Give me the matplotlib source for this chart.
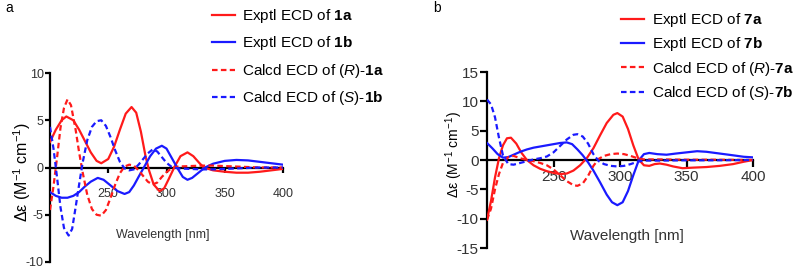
import matplotlib
matplotlib.use("Agg")
import matplotlib.pyplot as plt

plt.rcParams["font.family"] = ["Liberation Sans", "DejaVu Sans"]
plt.rcParams["mathtext.fontset"] = "custom"
plt.rcParams["mathtext.rm"] = "Liberation Sans"
plt.rcParams["mathtext.it"] = "Liberation Sans:italic"
plt.rcParams["mathtext.bf"] = "Liberation Sans:bold"

# ---- panel a: compounds 1a / 1b ----
wl_1a = [200, 205, 210, 214, 220, 225, 230, 235, 240, 244, 250, 255, 260, 265, 270,
         274, 278, 282, 285, 289, 294, 298, 302, 307, 312, 318, 323, 328, 332, 340,
         350, 360, 370, 380, 390, 400]
exp_1a = [2.7, 4.0, 5.0, 5.4, 5.0, 4.0, 2.8, 1.6, 0.7, 0.45, 0.9, 2.2, 4.0, 5.7, 6.4,
          5.8, 3.8, 1.2, -0.3, -1.8, -2.5, -2.2, -1.2, 0.1, 1.2, 1.6, 1.2, 0.5, 0.0, -0.3,
          -0.45, -0.55, -0.55, -0.45, -0.3, -0.15]

wl_1b = [200, 205, 210, 215, 220, 225, 230, 235, 241, 246, 252, 258, 264, 268, 272,
         276, 281, 286, 291, 296, 300, 305, 310, 314, 318, 322, 327, 333, 340, 350,
         360, 370, 380, 390, 400]
exp_1b = [-2.6, -3.0, -3.2, -3.2, -3.0, -2.6, -2.0, -1.5, -1.1, -1.3, -1.9, -2.5, -2.8, -2.6, -1.9,
          -1.0, 0.1, 1.2, 2.0, 2.3, 2.0, 0.9, -0.2, -1.0, -1.3, -1.1, -0.6, 0.0, 0.4, 0.7,
          0.8, 0.75, 0.6, 0.45, 0.3]

wl_calc_1a = [200, 203, 206, 209, 212, 215, 218, 222, 225, 228, 232, 236, 240, 244, 248,
              252, 256, 260, 264, 268, 272, 276, 280, 284, 288, 292, 296, 300, 304, 310,
              320, 330, 340, 350, 360, 370, 380, 400]
calc_r_1a = [-4.5, -2.0, 1.0, 4.2, 6.3, 7.2, 6.6, 4.0, 1.6, -0.5, -2.9, -4.4, -5.0, -5.1, -4.5,
             -3.2, -1.8, -0.6, 0.1, 0.3, 0.2, -0.3, -0.9, -1.5, -1.8, -1.6, -1.0, -0.5, -0.1, 0.1,
             0.15, 0.2, 0.2, 0.15, 0.1, 0.05, 0.0, 0.0]

wl_calc_1b = [200, 203, 206, 209, 212, 216, 219, 222, 225, 228, 232, 236, 240, 244, 248,
              252, 256, 260, 264, 268, 272, 276, 280, 284, 288, 292, 296, 300, 304, 310,
              320, 330, 340, 350, 360, 370, 380, 400]
calc_s_1b = [4.3, 2.0, -1.0, -4.2, -6.4, -7.2, -6.5, -4.2, -1.8, 0.5, 2.9, 4.3, 4.9, 5.0, 4.4,
             3.2, 1.8, 0.6, -0.1, -0.3, -0.2, 0.3, 0.9, 1.5, 1.9, 1.7, 1.1, 0.5, 0.1, -0.1,
             -0.15, -0.2, -0.2, -0.15, -0.1, -0.05, 0.0, 0.0]

# ---- panel b: compounds 7a / 7b ----
wl_7a = [200, 203, 206, 209, 212, 215, 218, 222, 226, 230, 235, 240, 245, 250, 255,
         260, 265, 270, 275, 280, 285, 290, 295, 298, 302, 306, 310, 314, 318, 322,
         326, 330, 335, 340, 347, 355, 365, 375, 385, 393, 400]
exp_7a = [-10.2, -7.0, -3.0, 0.3, 2.5, 3.7, 3.8, 2.8, 1.2, 0.0, -0.9, -1.5, -1.9, -2.2, -2.4,
          -2.3, -1.8, -0.9, 0.3, 2.0, 4.2, 6.3, 7.7, 8.0, 7.4, 5.3, 2.5, 0.1, -0.9, -1.0,
          -0.7, -0.6, -0.8, -1.1, -1.4, -1.3, -1.2, -1.0, -0.7, -0.3, 0.0]

wl_7b = [200, 204, 208, 212, 216, 220, 225, 230, 235, 240, 245, 250, 255, 260, 264,
         268, 272, 276, 280, 285, 290, 294, 298, 302, 306, 310, 314, 318, 322, 328,
         335, 342, 350, 358, 365, 375, 385, 393, 400]
exp_7b = [2.9, 2.0, 1.0, 0.4, 0.5, 0.9, 1.4, 1.8, 2.1, 2.3, 2.5, 2.7, 2.9, 3.0, 2.7,
          1.8, 0.8, -0.4, -1.8, -3.8, -5.9, -7.2, -7.7, -7.2, -5.3, -2.6, -0.1, 1.0, 1.2, 1.0,
          0.9, 1.1, 1.3, 1.5, 1.4, 1.1, 0.8, 0.55, 0.45]

wl_calc_7 = [200, 203, 206, 209, 212, 216, 220, 225, 230, 235, 240, 245, 250, 255, 260,
             265, 268, 272, 276, 280, 284, 288, 293, 298, 303, 308, 313, 318, 330, 350,
             370, 400]
calc_r_7a = [-10.2, -8.3, -5.0, -2.4, -0.5, 0.5, 0.7, 0.3, 0.0, -0.2, -0.5, -0.9, -1.6, -2.6, -3.6,
             -4.3, -4.4, -4.0, -2.7, -1.0, 0.2, 0.7, 1.0, 1.1, 1.0, 0.7, 0.3, 0.1, 0.1, 0.05,
             0.05, 0.0]
calc_s_7b = [10.3, 9.5, 7.3, 3.8, 0.8, -0.7, -0.8, -0.5, -0.2, 0.1, 0.3, 0.6, 1.3, 2.4, 3.5,
             4.3, 4.4, 4.0, 2.8, 1.0, -0.2, -0.7, -1.0, -1.1, -1.0, -0.7, -0.3, -0.1, -0.1, -0.05,
             -0.05, 0.0]

RED = "#ff1a1a"
BLUE = "#1a1aff"
DASH = (2.5, 1.5)
W, H = 797, 275
YLABEL = "Δε (M$^{-1}$ cm$^{-1}$)"


def draw_panel(ax, series, ylim, yticks, tick_fs, tick_len, tick_pad_x):
    for wl, vals, color, dashed, label in series:
        line, = ax.plot(wl, vals, color=color, lw=1.6, label=label, zorder=3)
        if dashed:
            line.set_dashes(DASH)

    ax.set_xlim(200, 400)
    ax.set_ylim(*ylim)
    ax.set_xticks([250, 300, 350, 400])
    ax.set_yticks(yticks)
    ax.set_yticklabels([str(t) for t in yticks])

    for side in ("top", "right"):
        ax.spines[side].set_visible(False)
    ax.spines["bottom"].set_position(("data", 0))
    for side in ("left", "bottom"):
        ax.spines[side].set_linewidth(1.6)
        ax.spines[side].set_zorder(2)
    ax.tick_params(axis="both", width=1.6, length=tick_len, color="black",
                   labelcolor="#333333", labelsize=tick_fs)
    ax.tick_params(axis="x", pad=tick_pad_x)
    ax.tick_params(axis="y", pad=1)
    ax.patch.set_visible(False)


def main() -> None:
    fig = plt.figure(figsize=(W / 100, H / 100), dpi=100)

    ax_a = fig.add_axes([50 / W, 1 - 262 / H, 233 / W, 189 / H])
    series_a = [
        (wl_1a, exp_1a, RED, False, r"Exptl ECD of $\mathbf{1a}$"),
        (wl_1b, exp_1b, BLUE, False, r"Exptl ECD of $\mathbf{1b}$"),
        (wl_calc_1a, calc_r_1a, RED, True, r"Calcd ECD of ($\mathit{R}$)-$\mathbf{1a}$"),
        (wl_calc_1b, calc_s_1b, BLUE, True, r"Calcd ECD of ($\mathit{S}$)-$\mathbf{1b}$"),
    ]
    draw_panel(ax_a, series_a, (-10, 10), [-10, -5, 0, 5, 10], 9, 3.5, 11)
    ax_a.text(-0.12, 0.476, YLABEL, rotation=90,
              ha="center", va="center", fontsize=11.5, transform=ax_a.transAxes)
    ax_a.text(0.485, 0.143, "Wavelength [nm]", ha="center", va="center",
              fontsize=9, color="#333333", transform=ax_a.transAxes)
    ax_a.legend(loc="upper left", bbox_to_anchor=(212 / W, 1 - 7 / H),
                bbox_transform=fig.transFigure, frameon=False, fontsize=11,
                handlelength=1.5, handletextpad=0.45, labelspacing=0.62,
                borderpad=0, borderaxespad=0)

    ax_b = fig.add_axes([487 / W, 1 - 248 / H, 266 / W, 176 / H])
    series_b = [
        (wl_7a, exp_7a, RED, False, r"Exptl ECD of $\mathbf{7a}$"),
        (wl_7b, exp_7b, BLUE, False, r"Exptl ECD of $\mathbf{7b}$"),
        (wl_calc_7, calc_r_7a, RED, True, r"Calcd ECD of ($\mathit{R}$)-$\mathbf{7a}$"),
        (wl_calc_7, calc_s_7b, BLUE, True, r"Calcd ECD of ($\mathit{S}$)-$\mathbf{7b}$"),
    ]
    draw_panel(ax_b, series_b, (-15, 15), [-15, -10, -5, 0, 5, 10, 15], 11, 5, 2)
    ax_b.text(-0.122, 0.53, YLABEL, rotation=90,
              ha="center", va="center", fontsize=10, transform=ax_b.transAxes)
    ax_b.text(0.526, 0.068, "Wavelength [nm]", ha="center", va="center",
              fontsize=11, color="#333333", transform=ax_b.transAxes)
    ax_b.legend(loc="upper left", bbox_to_anchor=(621 / W, 1 - 11 / H),
                bbox_transform=fig.transFigure, frameon=False, fontsize=11,
                handlelength=1.5, handletextpad=0.5, labelspacing=0.42,
                borderpad=0, borderaxespad=0)

    fig.text(5 / W, 1 - 8 / H, "a", ha="left", va="center", fontsize=10)
    fig.text(433 / W, 1 - 8 / H, "b", ha="left", va="center", fontsize=10)

    fig.savefig("out.png", dpi=100)


if __name__ == "__main__":
    main()
